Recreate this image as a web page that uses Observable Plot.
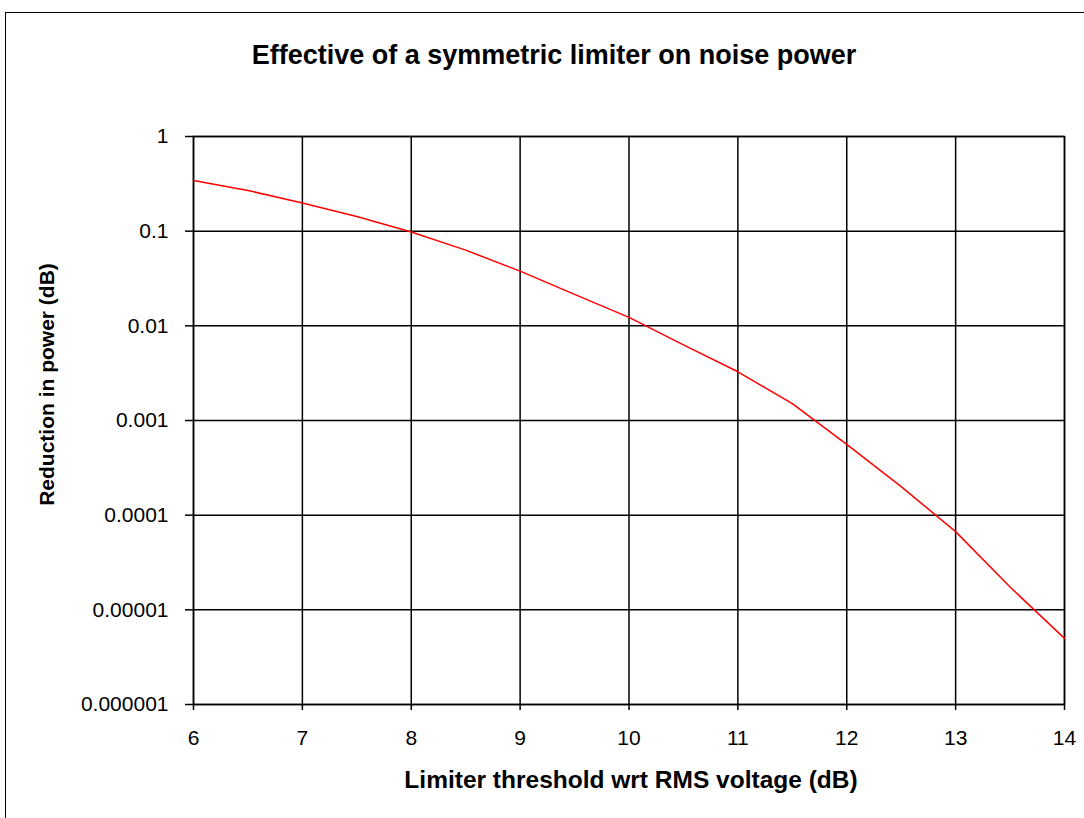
<!DOCTYPE html>
<html>
<head>
<meta charset="utf-8">
<script src="https://cdn.jsdelivr.net/npm/d3@7"></script>
<script src="https://cdn.jsdelivr.net/npm/@observablehq/plot@0.6"></script>
<style>
  html, body { margin: 0; padding: 0; background: #fff; overflow: hidden; width: 1084px; height: 818px; }
  #border { position: absolute; left: 5px; top: 12px; width: 1200px; height: 1000px; border: 1.5px solid #000; box-sizing: border-box; }
  #chart { position: absolute; left: 0; top: 0; }
</style>
</head>
<body>
<div id="border"></div>
<div id="chart"></div>
<script>
const titleText = "Effective of a symmetric limiter on noise power";
const xLabel = "Limiter threshold wrt RMS voltage (dB)";
const yLabel = "Reduction in power (dB)";

const xTicks = [6, 7, 8, 9, 10, 11, 12, 13, 14];
const yTicks = [1, 0.1, 0.01, 0.001, 0.0001, 0.00001, 0.000001];
const yTickLabels = ["1", "0.1", "0.01", "0.001", "0.0001", "0.00001", "0.000001"];

const threshold = [6, 6.5, 7, 7.5, 8, 8.5, 9, 9.5, 10, 10.5, 11, 11.5, 12, 12.5, 13, 13.5, 14];
const reduction = [0.343, 0.269, 0.198, 0.143, 0.098, 0.063, 0.0378, 0.0215, 0.0123, 0.0063, 0.00327, 0.00151, 0.00056, 0.0002, 0.000067, 0.0000174, 0.000005];

const data = threshold.map((t, i) => ({t, r: reduction[i]}));

const plot = Plot.plot({
  width: 1084,
  height: 818,
  marginLeft: 193,
  marginRight: 20,
  marginTop: 136,
  marginBottom: 114,
  style: {fontFamily: "'Liberation Sans', Arial, sans-serif", fontSize: "21px", color: "#000", background: "transparent"},
  x: {domain: [6, 14]},
  y: {type: "log", domain: [0.000001, 1]},
  marks: [
    Plot.gridX({ticks: xTicks, stroke: "#000", strokeOpacity: 1, strokeWidth: 1.5}),
    Plot.gridY({ticks: yTicks, stroke: "#000", strokeOpacity: 1, strokeWidth: 1.5}),
    Plot.frame({stroke: "#000", strokeWidth: 1.5}),
    Plot.axisX({ticks: xTicks, tickSize: 6, tickPadding: 20, label: null, fontSize: 21, strokeWidth: 1.5}),
    Plot.axisY({ticks: yTicks, tickSize: 8, tickPadding: 17, label: null, fontSize: 21, strokeWidth: 1.5,
      tickFormat: d => yTickLabels[yTicks.indexOf(d)]}),
    Plot.line(data, {x: "t", y: "r", stroke: "#ff0000", strokeWidth: 1.5}),
    Plot.text([titleText], {frameAnchor: "top", text: d => d, textAnchor: "middle", dx: -75, dy: -81, fontSize: 27, fontWeight: "bold", lineAnchor: "middle"}),
    Plot.text([xLabel], {frameAnchor: "bottom", text: d => d, textAnchor: "middle", dx: 2, dy: 76, fontSize: 24.5, fontWeight: "bold", lineAnchor: "middle"}),
    Plot.text([yLabel], {frameAnchor: "left", text: d => d, textAnchor: "middle", rotate: -90, dx: -146, dy: -36, fontSize: 21, fontWeight: "bold", lineAnchor: "middle"})
  ]
});
document.getElementById("chart").appendChild(plot);
</script>
</body>
</html>
